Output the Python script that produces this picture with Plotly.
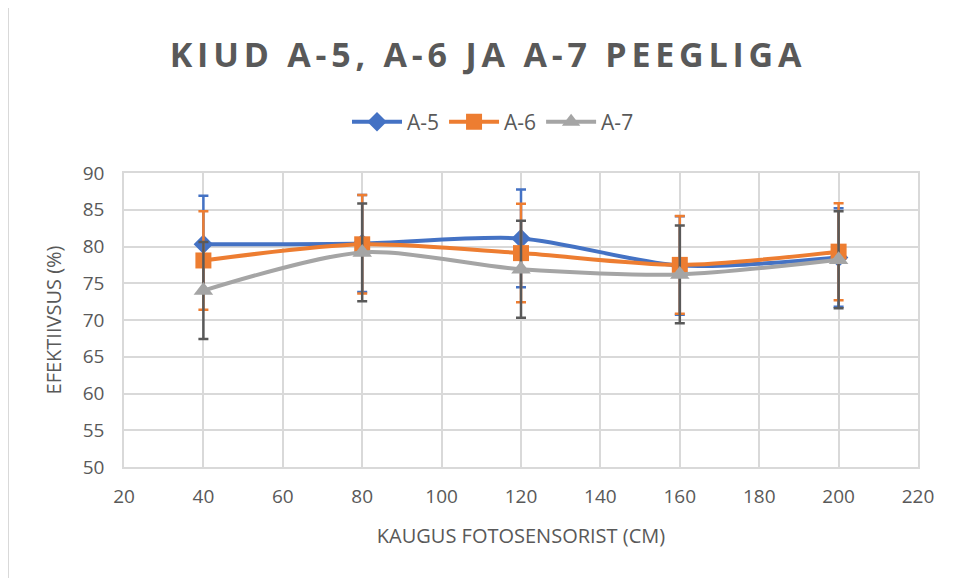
import plotly.graph_objects as go

distance_cm = [40, 80, 120, 160, 200]

a5_values = [80.3, 80.4, 81.1, 77.4, 78.5]
a6_values = [78.1, 80.3, 79.1, 77.5, 79.3]
a7_values = [74.0, 79.2, 76.9, 76.2, 78.2]

a5_errors = [6.6, 6.6, 6.65, 6.7, 6.7]
a6_errors = [6.7, 6.7, 6.7, 6.65, 6.6]
a7_errors = [6.6, 6.65, 6.6, 6.65, 6.6]

series_names = ["A-5", "A-6", "A-7"]

TEXT = "#595959"
GRID = "#d9d9d9"
FONT = "Open Sans"

# page body has an 8px margin; compensate so the plot area lands at 124..918 x 173..467
L, R, T, B = 116, 48, 165, 119
PW = 958 - L - R
PH = 578 - T - B

fig = go.Figure()

specs = [
    (series_names[0], a5_values, a5_errors, "#4472C4", "#4472C4", "diamond", 15),
    (series_names[1], a6_values, a6_errors, "#ED7D31", "#ED7D31", "square", 16),
    (series_names[2], a7_values, a7_errors, "#A5A5A5", "#595959", "triangle-up", 17),
]

for name, vals, errs, col, ecol, sym, msize in specs:
    fig.add_trace(go.Scatter(
        x=distance_cm, y=vals, name=name, mode="lines+markers",
        line=dict(color=col, width=4, shape="spline", smoothing=0.8),
        marker=dict(symbol=sym, size=msize, color=col),
        error_y=dict(type="data", array=errs, visible=True, color=ecol,
                     thickness=2.5, width=5),
    ))

fig.update_layout(
    width=958, height=578,
    paper_bgcolor="white", plot_bgcolor="white",
    margin=dict(l=L, r=R, t=T, b=B),
    font=dict(family=FONT, color=TEXT, size=17),
    title=dict(text="<b>KIUD A-5, A-6 JA A-7 PEEGLIGA</b>",
               x=(488 - 8) / 958, xanchor="center",
               y=1 - (55 - 8) / 578, yanchor="middle",
               yref="container", xref="container",
               font=dict(family=FONT, size=34, color=TEXT)),
    legend=dict(orientation="h", x=(493 - 124) / PW, xanchor="center", y=1 + (173 - 122) / PH,
                yanchor="middle", font=dict(size=21, color=TEXT),
                itemwidth=50, traceorder="normal"),
    showlegend=True,
)

fig.update_xaxes(
    range=[20, 220], dtick=20, tick0=20,
    showgrid=True, gridcolor=GRID, gridwidth=1.5,
    showline=True, linecolor=GRID, linewidth=1.5, mirror=True,
    zeroline=False, ticks="",
    tickfont=dict(size=19, color=TEXT),
    ticklabelstandoff=11,
    title=dict(text="KAUGUS FOTOSENSORIST (CM)", font=dict(size=20, color=TEXT),
               standoff=21),
)
fig.update_yaxes(
    range=[50, 90], dtick=5, tick0=50,
    showgrid=True, gridcolor=GRID, gridwidth=1.5,
    showline=True, linecolor=GRID, linewidth=1.5, mirror=True,
    zeroline=False, ticks="",
    tickfont=dict(size=19, color=TEXT),
    ticklabelstandoff=14,
    title=dict(text="EFEKTIIVSUS (%)", font=dict(size=20, color=TEXT),
               standoff=16),
)

fig.add_shape(type="line", xref="paper", yref="paper",
              x0=-L / PW, x1=-L / PW,
              y0=-B / PH, y1=1 + T / PH,
              line=dict(color=GRID, width=2))

post = """
var gd = document.getElementById('{plot_id}');
function spaceTitle(){
  gd.querySelectorAll('.gtitle').forEach(function(e){ e.style.letterSpacing = '4.8px'; });
}
spaceTitle();
gd.on('plotly_afterplot', spaceTitle);
"""

fig.write_html("out.html", post_script=post)
